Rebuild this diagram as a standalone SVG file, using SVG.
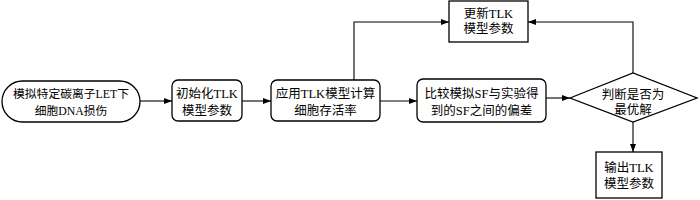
<svg xmlns="http://www.w3.org/2000/svg" width="700" height="200" viewBox="0 0 700 200">
<defs>
<marker id="ah" markerWidth="8" markerHeight="6" refX="8" refY="3" orient="auto" markerUnits="userSpaceOnUse">
<path d="M0,0 L8,3 L0,6 Z" fill="#000"/>
</marker>
<style>
.box{fill:#fff;stroke:#000;stroke-width:1.3}
.t{font-family:"Liberation Serif","Noto Sans CJK SC",serif;font-size:12.5px;fill:#000;text-anchor:middle}
.s{font-size:11.8px}
.c{fill:none;stroke:#000;stroke-width:1.1;marker-end:url(#ah)}
</style>
</defs>
<rect width="700" height="200" fill="#fff"/>
<g id="connectors">
<path class="c" d="M140,101 L172,101"/>
<path class="c" d="M242,101 L271,101"/>
<path class="c" d="M380,101 L417,101"/>
<path class="c" d="M546,98 L570,98"/>
<path class="c" d="M354,80 L354,22 L449,22"/>
<path class="c" d="M633,73 L633,22 L528,22"/>
<path class="c" d="M633,122 L633,152"/>
</g>
<g id="n1">
<rect class="box" x="2" y="81" width="138" height="41" rx="20.5"/>
<text class="t s" x="71" y="97.5">模拟特定碳离子LET下</text>
<text class="t s" x="71" y="114.5">细胞DNA损伤</text>
</g>
<g id="n2">
<rect class="box" x="172" y="80" width="70" height="41" rx="6"/>
<text class="t" x="207" y="97.5">初始化TLK</text>
<text class="t" x="207" y="114.5">模型参数</text>
</g>
<g id="n3">
<rect class="box" x="271" y="80" width="109" height="41" rx="6"/>
<text class="t" x="325.5" y="97.5">应用TLK模型计算</text>
<text class="t" x="325.5" y="114.5">细胞存活率</text>
</g>
<g id="n4">
<rect class="box" x="417" y="79" width="129" height="43" rx="6"/>
<text class="t" x="481.5" y="97.5">比较模拟SF与实验得</text>
<text class="t" x="481.5" y="114.5">到的SF之间的偏差</text>
</g>
<g id="n5">
<rect class="box" x="449" y="1" width="79" height="41"/>
<text class="t" x="488.5" y="17.5">更新TLK</text>
<text class="t" x="488.5" y="33">模型参数</text>
</g>
<g id="n6">
<path class="box" d="M570,98 L633,73 L697,98 L633,122 Z"/>
<text class="t" x="633" y="98.5">判断是否为</text>
<text class="t" x="633" y="113.5">最优解</text>
</g>
<g id="n7">
<rect class="box" x="596" y="152" width="66" height="46"/>
<text class="t" x="629" y="171.5">输出TLK</text>
<text class="t" x="629" y="187.5">模型参数</text>
</g>
</svg>
